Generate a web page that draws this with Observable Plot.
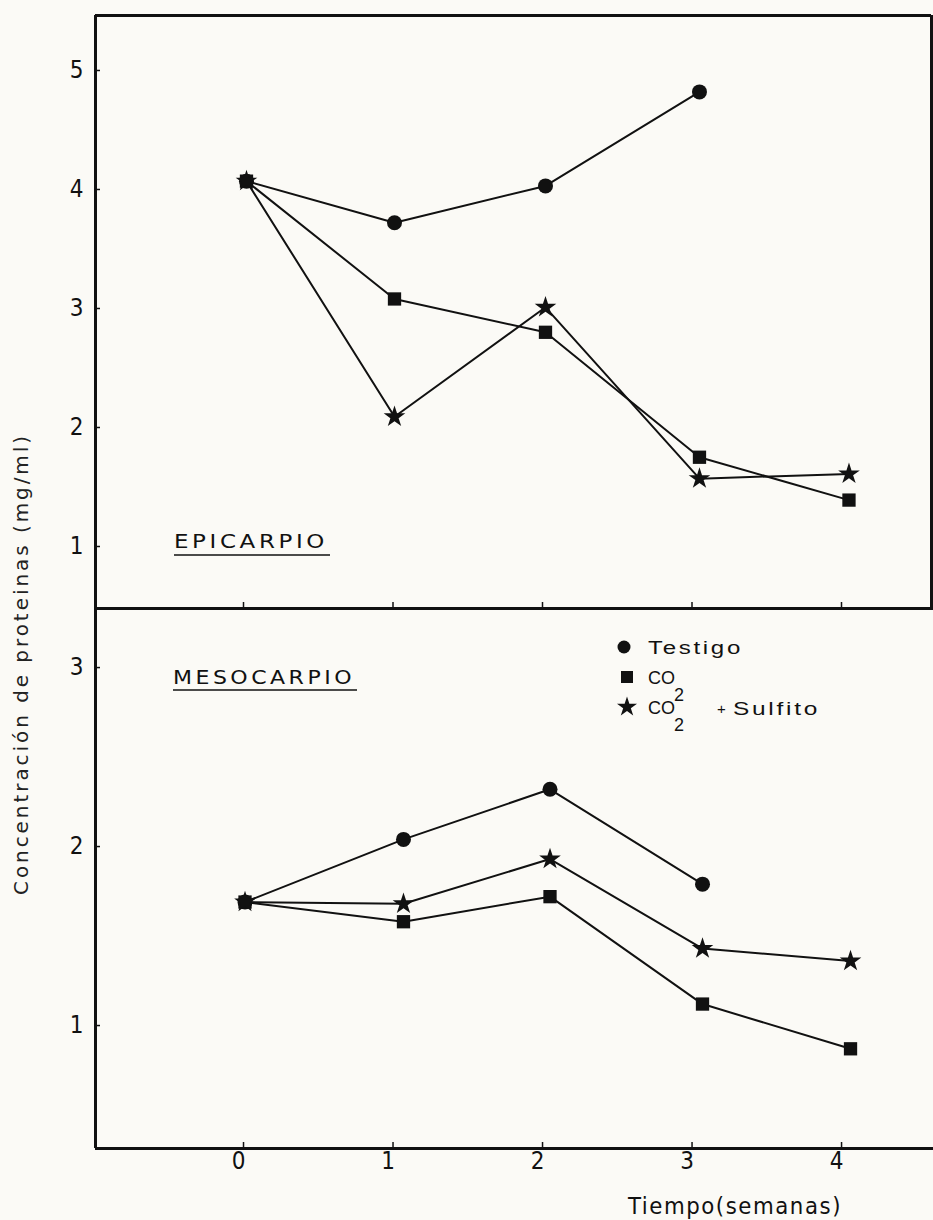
<!DOCTYPE html>
<html>
<head>
<meta charset="utf-8">
<script src="https://cdn.jsdelivr.net/npm/d3@7"></script>
<script src="https://cdn.jsdelivr.net/npm/@observablehq/plot@0.6"></script>
<style>
  body { margin: 0; background: #fbfaf6; }
  #wrap { position: relative; width: 933px; height: 1220px; overflow: hidden; }
  #top, #bot { position: absolute; left: 0; }
  #top { top: 0; }
  #bot { top: 608px; }
  #ov { position: absolute; left: 0; top: 0; pointer-events: none; }
</style>
</head>
<body>
<div id="wrap">
  <div id="top"></div>
  <div id="bot"></div>
  <svg id="ov" width="933" height="1220"></svg>
</div>
<script>
// ---------------- data ----------------
const xTicks = [0, 1, 2, 3, 4];
const seriesNames = ["Testigo", "CO2", "CO2 + Sulfito"];

// EPICARPIO (top panel): week positions as drawn, protein mg/ml
const epiX = [0.02, 1.01, 2.02, 3.05, 4.05];
const epiTestigo = [4.07, 3.72, 4.03, 4.82];
const epiCO2 = [4.07, 3.08, 2.80, 1.75, 1.39];
const epiSulfito = [4.07, 2.09, 3.01, 1.57, 1.61];
const epiYTicks = [1, 2, 3, 4, 5];

// MESOCARPIO (bottom panel)
const mesoX = [0.01, 1.07, 2.05, 3.07, 4.06];
const mesoTestigo = [1.69, 2.04, 2.32, 1.79];
const mesoCO2 = [1.69, 1.58, 1.72, 1.12, 0.87];
const mesoSulfito = [1.69, 1.68, 1.93, 1.43, 1.36];
const mesoYTicks = [1, 2, 3];

// ---------------- helpers ----------------
const tickFont = "'Liberation Sans Narrow','DejaVu Sans Condensed','Arial Narrow',sans-serif";
const toRows = (xs, ys, serie) => ys.map((y, i) => ({x: xs[i], y, serie}));
const intFmt = d => String(d);

const xDomTop = [-0.99, 4.602];
const xDomBot = [-0.99, 4.615];
const yDomTop = [0.479, 5.462];
const yDomBot = [0.313, 3.33];

function seriesMarks(rowsT, rowsC, rowsS) {
  return [
    Plot.line(rowsT, {x: "x", y: "y", stroke: "#111", strokeWidth: 2}),
    Plot.line(rowsC, {x: "x", y: "y", stroke: "#111", strokeWidth: 2}),
    Plot.line(rowsS, {x: "x", y: "y", stroke: "#111", strokeWidth: 2}),
    Plot.dot(rowsT, {x: "x", y: "y", r: 7.5, symbol: "circle", fill: "#111", stroke: "none"}),
    Plot.dot(rowsC, {x: "x", y: "y", r: 7.5, symbol: "square", fill: "#111", stroke: "none"}),
    Plot.dot(rowsS, {x: "x", y: "y", r: 6.8, symbol: "star", fill: "#111", stroke: "none"})
  ];
}

const pxPerWeek = 836 / (xDomTop[1] - xDomTop[0]);
const pxPerUnitTop = 593 / (yDomTop[1] - yDomTop[0]);
const pxPerUnitBot = 540 / (yDomBot[1] - yDomBot[0]);

// ---------------- top panel ----------------
const topPlot = Plot.plot({
  width: 933,
  height: 608,
  marginTop: 15,
  marginBottom: 0,
  marginLeft: 95,
  marginRight: 2,
  style: {background: "transparent", overflow: "visible", fontFamily: tickFont, fontSize: "24px", color: "#111"},
  x: {domain: xDomTop, axis: null},
  y: {domain: yDomTop, axis: null},
  marks: [
    Plot.axisY(epiYTicks, {tickSize: 0, tickPadding: 12, label: null, tickFormat: intFmt, fill: "#111"}),
    Plot.ruleY(epiYTicks, {x1: xDomTop[0], x2: xDomTop[0] + 5 / pxPerWeek, stroke: "#111", strokeWidth: 1.5}),
    Plot.ruleX(xTicks, {y1: yDomTop[0], y2: yDomTop[0] + 6 / pxPerUnitTop, stroke: "#111", strokeWidth: 1.5}),
    Plot.ruleY([yDomTop[1]], {stroke: "#111", strokeWidth: 3}),
    Plot.ruleY([yDomTop[0]], {stroke: "#111", strokeWidth: 3}),
    Plot.ruleX([xDomTop[0]], {stroke: "#111", strokeWidth: 3}),
    Plot.ruleX([xDomTop[1]], {stroke: "#111", strokeWidth: 3}),
    ...seriesMarks(
      toRows(epiX, epiTestigo, seriesNames[0]),
      toRows(epiX, epiCO2, seriesNames[1]),
      toRows(epiX, epiSulfito, seriesNames[2])
    )
  ]
});
document.getElementById("top").append(topPlot);

// ---------------- bottom panel ----------------
const botPlot = Plot.plot({
  width: 933,
  height: 612,
  marginTop: 0,
  marginBottom: 72,
  marginLeft: 95,
  marginRight: 0,
  style: {background: "transparent", overflow: "visible", fontFamily: tickFont, fontSize: "24px", color: "#111"},
  x: {domain: xDomBot, axis: null},
  y: {domain: yDomBot, axis: null},
  marks: [
    Plot.axisY(mesoYTicks, {tickSize: 0, tickPadding: 12, label: null, tickFormat: intFmt, fill: "#111"}),
    Plot.axisX(xTicks, {tickSize: 0, tickPadding: 3, dx: -5, label: null, tickFormat: intFmt, fill: "#111"}),
    Plot.ruleY(mesoYTicks, {x1: xDomBot[0], x2: xDomBot[0] + 5 / pxPerWeek, stroke: "#111", strokeWidth: 1.5}),
    Plot.ruleX(xTicks, {y1: yDomBot[0], y2: yDomBot[0] + 6 / pxPerUnitBot, stroke: "#111", strokeWidth: 1.5}),
    Plot.ruleY([yDomBot[1]], {stroke: "#111", strokeWidth: 3}),
    Plot.ruleY([yDomBot[0]], {stroke: "#111", strokeWidth: 3}),
    Plot.ruleX([xDomBot[0]], {stroke: "#111", strokeWidth: 3}),
    ...seriesMarks(
      toRows(mesoX, mesoTestigo, seriesNames[0]),
      toRows(mesoX, mesoCO2, seriesNames[1]),
      toRows(mesoX, mesoSulfito, seriesNames[2])
    )
  ]
});
document.getElementById("bot").append(botPlot);

// ---------------- labels, legend (overlay) ----------------
const ov = d3.select("#ov");
const labelFont = "'DejaVu Sans','Noto Sans',sans-serif";
const legendFont = "'Liberation Sans',Arial,sans-serif";

function fitText(sel, len) {
  return sel.attr("textLength", len).attr("lengthAdjust", "spacingAndGlyphs");
}

// y axis title
fitText(ov.append("text")
  .attr("transform", "translate(28,664) rotate(-90)")
  .attr("text-anchor", "middle")
  .attr("font-family", labelFont).attr("font-size", 20).attr("fill", "#222")
  .attr("letter-spacing", 3)
  .text("Concentración de proteinas (mg/ml)"), 462);

// x axis title
fitText(ov.append("text")
  .attr("x", 628).attr("y", 1214)
  .attr("font-family", tickFont).attr("font-size", 23).attr("fill", "#111")
  .attr("letter-spacing", 1.5)
  .text("Tiempo(semanas)"), 214);

// panel titles with underline
function panelTitle(txt, x, y, len, uy) {
  fitText(ov.append("text").attr("x", x).attr("y", y)
    .attr("font-family", labelFont).attr("font-size", 19).attr("fill", "#111")
    .attr("letter-spacing", 3)
    .text(txt), len);
  ov.append("line").attr("x1", x).attr("x2", x + len + 2).attr("y1", uy).attr("y2", uy)
    .attr("stroke", "#111").attr("stroke-width", 1.6);
}
panelTitle("EPICARPIO", 174, 548, 154, 555);
panelTitle("MESOCARPIO", 173, 684, 182, 690);

// legend
const lg = ov.append("g").attr("fill", "#111").attr("font-family", legendFont).attr("font-size", 18);
lg.append("path").attr("transform", "translate(624,647)")
  .attr("d", d3.symbol(d3.symbolCircle, Math.PI * 6.5 * 6.5)());
lg.append("path").attr("transform", "translate(627,677)")
  .attr("d", d3.symbol(d3.symbolSquare, 12 * 12)());
lg.append("path").attr("transform", "translate(627,707)")
  .attr("d", d3.symbol(d3.symbolStar, Math.PI * 6.3 * 6.3)());
fitText(lg.append("text").attr("x", 648).attr("y", 654).attr("letter-spacing", 2).text("Testigo"), 95);
lg.append("text").attr("x", 648).attr("y", 684).text("CO");
lg.append("text").attr("x", 674).attr("y", 701).text("2");
lg.append("text").attr("x", 648).attr("y", 714).text("CO");
lg.append("text").attr("x", 674).attr("y", 731).text("2");
lg.append("text").attr("x", 717).attr("y", 714).attr("font-size", 15).text("+");
fitText(lg.append("text").attr("x", 733).attr("y", 715).attr("letter-spacing", 2).text("Sulfito"), 87);
</script>
</body>
</html>
